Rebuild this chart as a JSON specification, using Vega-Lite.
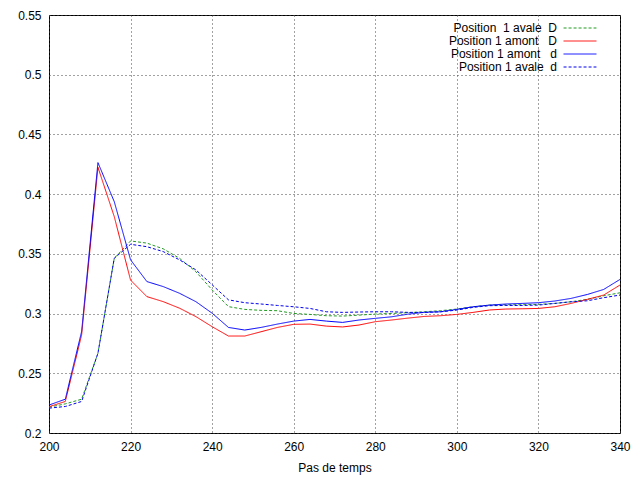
{
  "$schema": "https://vega.github.io/schema/vega-lite/v6.json",
  "autosize": {"type": "none"},
  "width": 571,
  "height": 418,
  "padding": {"left": 49, "top": 15, "right": 14, "bottom": 46},
  "background": "white",
  "view": {"stroke": "black", "strokeWidth": 1, "fill": "white"},
  "config": {
    "font": "Liberation Sans",
    "axis": {
      "domain": false,
      "grid": true,
      "gridColor": "#444",
      "gridDash": [1, 3],
      "gridWidth": 1,
      "ticks": false,
      "labelPadding": 8,
      "labelFlush": false,
      "labelFontSize": 12,
      "labelColor": "black",
      "titleFontSize": 12,
      "titleFontWeight": "normal",
      "titleColor": "black"
    }
  },
  "data": {"values": [
    {"t":200,"v":0.2216,"s":"A"},{"t":204,"v":0.2244,"s":"A"},{"t":208,"v":0.2283,"s":"A"},{"t":212,"v":0.2668,"s":"A"},{"t":216,"v":0.3463,"s":"A"},{"t":220,"v":0.3608,"s":"A"},{"t":224,"v":0.359,"s":"A"},{"t":228,"v":0.3542,"s":"A"},{"t":232,"v":0.3463,"s":"A"},{"t":236,"v":0.3351,"s":"A"},{"t":240,"v":0.3198,"s":"A"},{"t":244,"v":0.3058,"s":"A"},{"t":248,"v":0.3035,"s":"A"},{"t":252,"v":0.3027,"s":"A"},{"t":256,"v":0.3024,"s":"A"},{"t":260,"v":0.3001,"s":"A"},{"t":264,"v":0.2993,"s":"A"},{"t":268,"v":0.2982,"s":"A"},{"t":272,"v":0.2979,"s":"A"},{"t":276,"v":0.2987,"s":"A"},{"t":280,"v":0.2996,"s":"A"},{"t":284,"v":0.3001,"s":"A"},{"t":288,"v":0.3007,"s":"A"},{"t":292,"v":0.3015,"s":"A"},{"t":296,"v":0.3024,"s":"A"},{"t":300,"v":0.3038,"s":"A"},{"t":304,"v":0.3057,"s":"A"},{"t":308,"v":0.3071,"s":"A"},{"t":312,"v":0.3074,"s":"A"},{"t":316,"v":0.3074,"s":"A"},{"t":320,"v":0.3077,"s":"A"},{"t":324,"v":0.3085,"s":"A"},{"t":328,"v":0.3099,"s":"A"},{"t":332,"v":0.3119,"s":"A"},{"t":336,"v":0.3149,"s":"A"},{"t":340,"v":0.3174,"s":"A"},
    {"t":200,"v":0.222,"s":"B"},{"t":204,"v":0.2264,"s":"B"},{"t":208,"v":0.282,"s":"B"},{"t":212,"v":0.4225,"s":"B"},{"t":216,"v":0.3812,"s":"B"},{"t":220,"v":0.328,"s":"B"},{"t":224,"v":0.3142,"s":"B"},{"t":228,"v":0.31,"s":"B"},{"t":232,"v":0.3045,"s":"B"},{"t":236,"v":0.2975,"s":"B"},{"t":240,"v":0.289,"s":"B"},{"t":244,"v":0.2812,"s":"B"},{"t":248,"v":0.2812,"s":"B"},{"t":252,"v":0.2848,"s":"B"},{"t":256,"v":0.2884,"s":"B"},{"t":260,"v":0.291,"s":"B"},{"t":264,"v":0.2912,"s":"B"},{"t":268,"v":0.2895,"s":"B"},{"t":272,"v":0.2888,"s":"B"},{"t":276,"v":0.2904,"s":"B"},{"t":280,"v":0.2932,"s":"B"},{"t":284,"v":0.2946,"s":"B"},{"t":288,"v":0.2962,"s":"B"},{"t":292,"v":0.2976,"s":"B"},{"t":296,"v":0.2982,"s":"B"},{"t":300,"v":0.2993,"s":"B"},{"t":304,"v":0.301,"s":"B"},{"t":308,"v":0.303,"s":"B"},{"t":312,"v":0.3038,"s":"B"},{"t":316,"v":0.304,"s":"B"},{"t":320,"v":0.3043,"s":"B"},{"t":324,"v":0.3057,"s":"B"},{"t":328,"v":0.3085,"s":"B"},{"t":332,"v":0.3119,"s":"B"},{"t":336,"v":0.3155,"s":"B"},{"t":340,"v":0.3239,"s":"B"},
    {"t":200,"v":0.2234,"s":"C"},{"t":204,"v":0.2283,"s":"C"},{"t":208,"v":0.285,"s":"C"},{"t":212,"v":0.4264,"s":"C"},{"t":216,"v":0.3937,"s":"C"},{"t":220,"v":0.345,"s":"C"},{"t":224,"v":0.3268,"s":"C"},{"t":228,"v":0.3226,"s":"C"},{"t":232,"v":0.317,"s":"C"},{"t":236,"v":0.31,"s":"C"},{"t":240,"v":0.3003,"s":"C"},{"t":244,"v":0.2884,"s":"C"},{"t":248,"v":0.2862,"s":"C"},{"t":252,"v":0.2884,"s":"C"},{"t":256,"v":0.2912,"s":"C"},{"t":260,"v":0.2937,"s":"C"},{"t":264,"v":0.2951,"s":"C"},{"t":268,"v":0.2937,"s":"C"},{"t":272,"v":0.2926,"s":"C"},{"t":276,"v":0.2946,"s":"C"},{"t":280,"v":0.296,"s":"C"},{"t":284,"v":0.2973,"s":"C"},{"t":288,"v":0.2995,"s":"C"},{"t":292,"v":0.301,"s":"C"},{"t":296,"v":0.3015,"s":"C"},{"t":300,"v":0.3035,"s":"C"},{"t":304,"v":0.3057,"s":"C"},{"t":308,"v":0.3071,"s":"C"},{"t":312,"v":0.308,"s":"C"},{"t":316,"v":0.3085,"s":"C"},{"t":320,"v":0.3091,"s":"C"},{"t":324,"v":0.3105,"s":"C"},{"t":328,"v":0.3127,"s":"C"},{"t":332,"v":0.316,"s":"C"},{"t":336,"v":0.3202,"s":"C"},{"t":340,"v":0.3286,"s":"C"},
    {"t":200,"v":0.2208,"s":"E"},{"t":204,"v":0.2222,"s":"E"},{"t":208,"v":0.2264,"s":"E"},{"t":212,"v":0.2668,"s":"E"},{"t":216,"v":0.3463,"s":"E"},{"t":220,"v":0.358,"s":"E"},{"t":224,"v":0.356,"s":"E"},{"t":228,"v":0.3519,"s":"E"},{"t":232,"v":0.345,"s":"E"},{"t":236,"v":0.3366,"s":"E"},{"t":240,"v":0.3241,"s":"E"},{"t":244,"v":0.3115,"s":"E"},{"t":248,"v":0.3091,"s":"E"},{"t":252,"v":0.308,"s":"E"},{"t":256,"v":0.3068,"s":"E"},{"t":260,"v":0.3057,"s":"E"},{"t":264,"v":0.3043,"s":"E"},{"t":268,"v":0.3015,"s":"E"},{"t":272,"v":0.301,"s":"E"},{"t":276,"v":0.3013,"s":"E"},{"t":280,"v":0.3015,"s":"E"},{"t":284,"v":0.3015,"s":"E"},{"t":288,"v":0.301,"s":"E"},{"t":292,"v":0.301,"s":"E"},{"t":296,"v":0.3015,"s":"E"},{"t":300,"v":0.3029,"s":"E"},{"t":304,"v":0.3052,"s":"E"},{"t":308,"v":0.3066,"s":"E"},{"t":312,"v":0.3068,"s":"E"},{"t":316,"v":0.3068,"s":"E"},{"t":320,"v":0.3071,"s":"E"},{"t":324,"v":0.3085,"s":"E"},{"t":328,"v":0.3099,"s":"E"},{"t":332,"v":0.3107,"s":"E"},{"t":336,"v":0.3133,"s":"E"},{"t":340,"v":0.3155,"s":"E"}
  ]},
  "mark": {"type": "line", "strokeWidth": 1, "clip": true},
  "encoding": {
    "x": {
      "field": "t", "type": "quantitative",
      "scale": {"domain": [200, 340], "nice": false},
      "axis": {"values": [200, 220, 240, 260, 280, 300, 320, 340], "title": "Pas de temps", "titlePadding": 10}
    },
    "y": {
      "field": "v", "type": "quantitative",
      "scale": {"domain": [0.2, 0.55], "nice": false, "zero": false},
      "axis": {"values": [0.2, 0.25, 0.3, 0.35, 0.4, 0.45, 0.5, 0.55], "format": "~g", "title": null}
    },
    "color": {
      "field": "s", "type": "nominal", "title": null,
      "scale": {
        "domain": ["A", "B", "C", "E"],
        "range": ["#229a22", "#ff0000", "#0000ff", "#0000ee"]
      },
      "legend": {
        "orient": "none",
        "legendX": 524,
        "legendY": 6,
        "symbolType": "M-2.6,0H2.6",
        "symbolSize": 160,
        "symbolStrokeWidth": 1,
        "labelFontSize": 12,
        "labelColor": "black",
        "labelAlign": "right",
        "labelOffset": -30,
        "rowPadding": 0,
        "labelLimit": 300,
        "padding": 0,
        "labelExpr": "datum.value == 'A' ? 'Position\u00a0 1 avale\u00a0 D' : datum.value == 'B' ? 'Position 1 amont\u00a0 \u00a0D' : datum.value == 'C' ? 'Position 1 amont\u00a0 \u00a0d' : 'Position 1 avale\u00a0 d'"
      }
    },
    "strokeDash": {
      "field": "s", "type": "nominal", "title": null,
      "scale": {
        "domain": ["A", "B", "C", "E"],
        "range": [[3, 2], [1, 0], [1, 0], [3, 2]]
      },
      "legend": {
        "orient": "none",
        "legendX": 524,
        "legendY": 6,
        "symbolType": "M-2.6,0H2.6",
        "symbolSize": 160,
        "symbolStrokeWidth": 1,
        "labelFontSize": 12,
        "labelColor": "black",
        "labelAlign": "right",
        "labelOffset": -30,
        "rowPadding": 0,
        "labelLimit": 300,
        "padding": 0,
        "labelExpr": "datum.value == 'A' ? 'Position\u00a0 1 avale\u00a0 D' : datum.value == 'B' ? 'Position 1 amont\u00a0 \u00a0D' : datum.value == 'C' ? 'Position 1 amont\u00a0 \u00a0d' : 'Position 1 avale\u00a0 d'"
      }
    }
  }
}
